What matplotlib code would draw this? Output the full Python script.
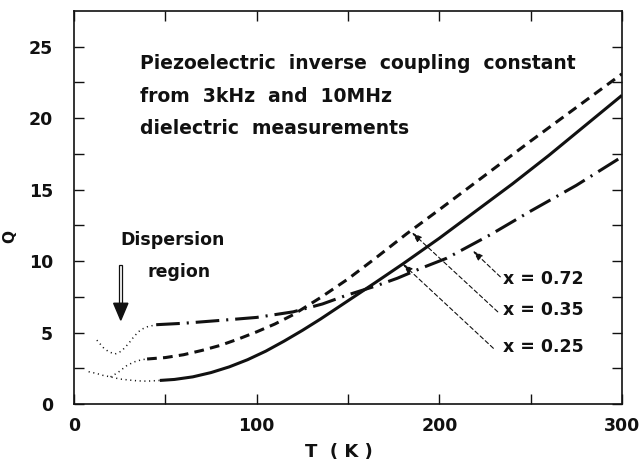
import matplotlib
matplotlib.use("Agg")
import matplotlib.pyplot as plt
from matplotlib.patches import Rectangle, Polygon

## data -----------------------------------------------------

# x = 0.25 (solid), dotted part below 47 K
t_025 = [47, 55, 65, 75, 85, 95, 105, 115, 125, 135, 145, 155, 165, 180, 200, 220, 240, 260, 280, 300]
q_025 = [1.65, 1.72, 1.9, 2.2, 2.6, 3.1, 3.7, 4.4, 5.15, 5.95, 6.8, 7.65, 8.5, 9.8, 11.6, 13.5, 15.4, 17.4, 19.5, 21.6]
t_025_dot = [8, 12, 16, 20, 25, 30, 35, 40, 47]
q_025_dot = [2.26, 2.15, 2.0, 1.9, 1.75, 1.68, 1.62, 1.6, 1.65]

# x = 0.35 (dashed)
t_035 = [40, 50, 60, 70, 80, 90, 100, 110, 120, 135, 150, 165, 182, 200, 225, 250, 275, 300]
q_035 = [3.15, 3.25, 3.45, 3.75, 4.1, 4.55, 5.05, 5.6, 6.25, 7.45, 8.75, 10.2, 11.9, 13.6, 16.0, 18.4, 20.75, 23.1]
t_035_dot = [20, 24, 29, 33, 37, 40]
q_035_dot = [1.9, 2.2, 2.7, 2.95, 3.1, 3.15]

# x = 0.72 (dash-dot)
t_072 = [45, 60, 80, 100, 120, 136, 149, 165, 177, 190, 204, 228, 250, 275, 300]
q_072 = [5.55, 5.65, 5.85, 6.06, 6.45, 7.0, 7.6, 8.25, 8.8, 9.5, 10.2, 11.85, 13.5, 15.3, 17.3]
t_072_dot = [12.5, 16, 19, 22.5, 26, 30, 33, 36.5, 40, 45]
q_072_dot = [4.47, 3.95, 3.65, 3.5, 3.7, 4.25, 4.75, 5.2, 5.4, 5.55]

x_labels = ["x = 0.72", "x = 0.35", "x = 0.25"]
label_pos = [(235, 8.75), (235, 6.57), (235, 4.02)]
leader_from = [(233.4, 8.9), (232.0, 6.45), (229.6, 3.9)]
leader_to = [(218.4, 10.72), (185, 12.0), (180, 9.8)]

title_lines = [
    "Piezoelectric  inverse  coupling  constant",
    "from  3kHz  and  10MHz",
    "dielectric  measurements",
]
title_q = [23.85, 21.55, 19.3]

## figure ---------------------------------------------------

plt.rcParams["font.family"] = ["DejaVu Sans"]
plt.rcParams["font.weight"] = "bold"
plt.rcParams["lines.scale_dashes"] = False

fig = plt.figure(figsize=(6.42, 4.66), dpi=100)
ax = fig.add_axes([0.1153, 0.133, 0.8535, 0.8434])

ink = "#111111"
ax.plot(t_025, q_025, color=ink, lw=2.2, solid_capstyle="butt")
ax.plot(t_035, q_035, color=ink, lw=2.2, dashes=(7, 4.5))
ax.plot(t_072, q_072, color=ink, lw=2.2, dashes=(17, 5, 1.5, 5))
for t, q in [(t_025_dot, q_025_dot), (t_035_dot, q_035_dot), (t_072_dot, q_072_dot)]:
    ax.plot(t, q, color=ink, lw=1.1, dashes=(0.8, 2.6))

# leaders with small arrow heads
for lab, pos, a, b in zip(x_labels, label_pos, leader_from, leader_to):
    ax.text(pos[0], pos[1], lab, fontsize=12.5, ha="left", va="center", color=ink)
    ax.annotate("", xy=b, xytext=a,
                arrowprops=dict(arrowstyle="-|>,head_length=0.6,head_width=0.2",
                                color=ink, lw=0.8, linestyle=(0, (3, 2)),
                                shrinkA=0, shrinkB=0))

# Dispersion region arrow
disp_t, shaft_top, head_top, head_tip = 25.6, 9.7, 7.05, 5.87
ax.add_patch(Rectangle((disp_t - 0.9, head_top), 1.8, shaft_top - head_top,
                       fc="white", ec=ink, lw=0.9))
ax.add_patch(Polygon([(disp_t - 3.9, head_top), (disp_t + 3.9, head_top), (disp_t, head_tip)],
                     closed=True, fc=ink, ec=ink))
ax.text(25.2, 11.45, "Dispersion", fontsize=12.5, ha="left", va="center", color=ink)
ax.text(40.5, 9.25, "region", fontsize=12.5, ha="left", va="center", color=ink)

for line, q in zip(title_lines, title_q):
    ax.text(36.2, q, line, fontsize=13.5, ha="left", va="center", color=ink)

## axes styling ---------------------------------------------

ax.set_xlim(0, 300)
ax.set_ylim(0, 27.5)
xt = [0, 50, 100, 150, 200, 250, 300]
ax.set_xticks(xt)
ax.set_xticklabels([str(v) if v % 100 == 0 else "" for v in xt])
yt = [0, 2.5, 5, 7.5, 10, 12.5, 15, 17.5, 20, 22.5, 25]
ax.set_yticks(yt)
ax.set_yticklabels([str(int(v)) if v % 5 == 0 else "" for v in yt])
ax.tick_params(direction="in", length=7.5, width=1.0, top=True, right=True,
               labelsize=12.5, colors=ink)
ax.tick_params(axis="x", pad=9)
ax.tick_params(axis="y", pad=15)
for s in ax.spines.values():
    s.set_linewidth(1.2)
    s.set_color(ink)

fig.text(339 / 642, 1 - 452 / 466, "T  ( K )", fontsize=13, ha="center", va="center", color=ink)
fig.text(10 / 642, 1 - 237 / 466, "Q", fontsize=11, rotation=90, ha="center", va="center", color=ink)

fig.savefig("out.png", dpi=100)
